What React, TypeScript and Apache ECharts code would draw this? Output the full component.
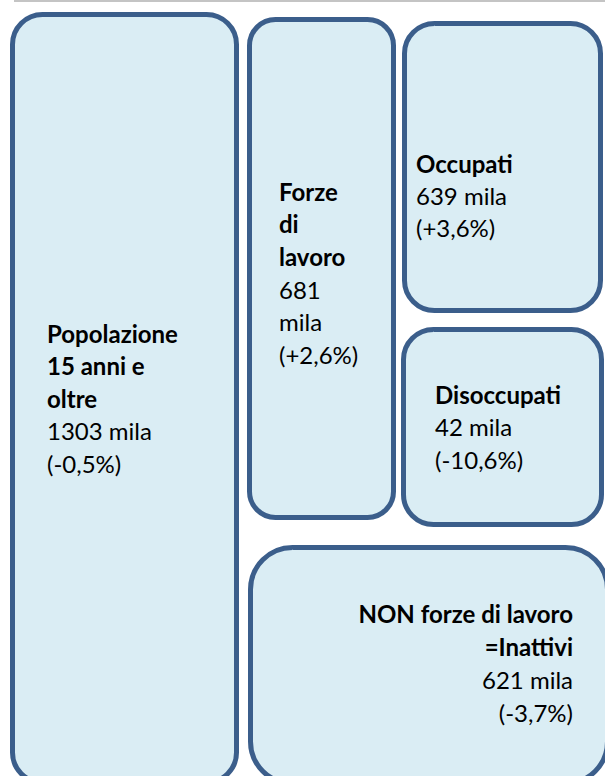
import React, { useEffect, useRef } from "react";
import * as echarts from "echarts";

// Data
const boxNames: string[][] = [
  ["Popolazione", "15 anni e", "oltre"],
  ["Forze", "di", "lavoro"],
  ["Occupati"],
  ["Disoccupati"],
  ["NON forze di lavoro", "=Inattivi"],
];
const boxValues: number[] = [1303, 681, 639, 42, 621];
const boxChanges: string[] = ["-0,5%", "+2,6%", "+3,6%", "-10,6%", "-3,7%"];
const valueUnit = "mila";

// Layout (positions/sizes only)
const boxRects = [
  { x: 12.5, y: 14.5, w: 224, h: 768, r: 30 },
  { x: 249.5, y: 19.5, w: 144, h: 498, r: 26 },
  { x: 404.5, y: 23.5, w: 196, h: 287, r: 30 },
  { x: 403.5, y: 329.5, w: 198, h: 195, r: 30 },
  { x: 250.5, y: 547.5, w: 357, h: 236, r: 42 },
];
const textLayout = [
  { x: 47, y0: 345, lh: 32.5, align: "left", split: false },
  { x: 279, y0: 203, lh: 32.7, align: "left", split: true },
  { x: 416, y0: 175, lh: 32.2, align: "left", split: false },
  { x: 435, y0: 406, lh: 32.5, align: "left", split: false },
  { x: 573, y0: 625, lh: 33, align: "right", split: false },
];

const FILL = "#daedf4";
const STROKE = "#3b5e8b";
const FONT = "Lato, 'Open Sans', sans-serif";
const FS = 24;

export default function App() {
  const ref = useRef<HTMLDivElement>(null);
  useEffect(() => {
    document.body.style.margin = "0";
    if (!ref.current) return;
    const chart = echarts.init(ref.current, undefined, { renderer: "svg" });
    const elements: any[] = [];
    elements.push({
      type: "line",
      shape: { x1: 14, y1: 1, x2: 605, y2: 1 },
      style: { stroke: "#c4c4c4", lineWidth: 2 },
    });
    boxRects.forEach((b, i) => {
      elements.push({
        type: "rect",
        shape: { x: b.x, y: b.y, width: b.w, height: b.h, r: b.r },
        style: { fill: FILL, stroke: STROKE, lineWidth: 5 },
      });
      const t = textLayout[i];
      const lines: { s: string; bold: boolean }[] = [];
      boxNames[i].forEach((n) => lines.push({ s: n, bold: true }));
      if (t.split) {
        lines.push({ s: String(boxValues[i]), bold: false });
        lines.push({ s: valueUnit, bold: false });
      } else {
        lines.push({ s: `${boxValues[i]} ${valueUnit}`, bold: false });
      }
      lines.push({ s: `(${boxChanges[i]})`, bold: false });
      lines.forEach((ln, k) => {
        elements.push({
          type: "text",
          x: t.x,
          y: t.y0 + k * t.lh,
          style: {
            text: ln.s,
            fill: "#000",
            font: `${ln.bold ? "bold " : ""}${FS}px ${FONT}`,
            textAlign: t.align,
            textVerticalAlign: "bottom",
          },
        });
      });
    });
    chart.setOption({
      animation: false,
      graphic: { elements },
    });
    return () => chart.dispose();
  }, []);
  return <div ref={ref} style={{ width: 605, height: 776 }} />;
}
